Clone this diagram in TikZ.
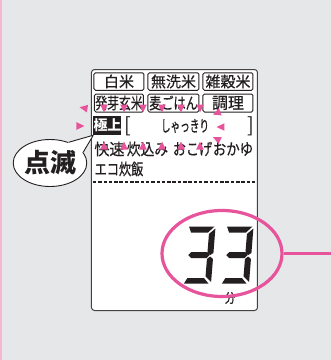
\documentclass[tikz,border=0pt]{standalone}
\usepackage{fontspec}
\usepackage{graphicx}
\usetikzlibrary{shapes.geometric,calc}
\newfontfamily\jp[FakeBold=0.6]{Noto Sans CJK JP}
\newfontfamily\jpb{Noto Sans CJK JP}
\definecolor{bg}{RGB}{230,231,232}
\definecolor{pk}{RGB}{231,84,155}
\definecolor{edgepink}{RGB}{246,182,208}
\definecolor{ink}{RGB}{35,31,32}
\newcommand\digitthree[2]{%
\begin{scope}[shift={(#1,#2)}, xslant=0.08]
\fill[ink] (2,-0.5)--(27.5,-0.5)--(21.5,5.5)--(4.5,5.5)--cycle;
\fill[ink] (28.5,1.5)--(28.5,26)--(25.5,28)--(22.5,26)--(22.5,7)--cycle;
\fill[ink] (3.5,28)--(6.5,25)--(22,25)--(25,28)--(22,31)--(6.5,31)--cycle;
\fill[ink] (25.5,29.5)--(28.5,32)--(28.5,55)--(22.5,49.5)--(22.5,32)--cycle;
\fill[ink] (1.5,56.5)--(26,56.5)--(21,51)--(4.5,51)--cycle;
\end{scope}}
\newcommand\ptri[3]{\fill[pk, shift={(#1,#2)}, rotate=#3] (4.5,0)--(-3.5,3.8)--(-3.5,-3.8)--cycle;}
\begin{document}
\begin{tikzpicture}[x=1pt,y=-1pt,
  lbl/.style={inner sep=0pt, text=ink, font=\jp\fontsize{15}{15}\selectfont},
  btn/.style={lbl, draw=ink, line width=1pt, rounded corners=1.5pt, minimum height=17.5pt}]
\useasboundingbox (0,0) rectangle (331,360);
\fill[bg] (0,0) rectangle (331,360);
\fill[edgepink] (0,0) rectangle (2,360);
% panel
\node[draw=ink!85, line width=1pt, fill=white, rounded corners=3pt, minimum width=166pt, minimum height=241pt, anchor=north west, inner sep=0pt] (panel) at (91,69) {};
% buttons
\node[btn, minimum width=50pt] (b1) at (119,81.5) {白米};
\node[btn, minimum width=51pt] (b2) at (173.5,81.5) {無洗米};
\node[btn, minimum width=50pt] (b3) at (228,81.5) {雑穀米};
\node[btn, minimum width=49pt, minimum height=18pt, font=\jp\fontsize{16}{16}\selectfont] (b4) at (119,103) {\scalebox{0.74}[1]{発芽玄米}};
\node[btn, minimum width=51pt, minimum height=18pt, font=\jp\fontsize{16}{16}\selectfont] (b5) at (173.5,103) {\scalebox{0.76}[1]{麦ごはん}};
\node[btn, minimum width=50pt, minimum height=18pt, font=\jp\fontsize{16}{16}\selectfont] (b6) at (228,103) {調理};
% row 3
\node[fill=ink, text=white, minimum width=27pt, minimum height=19pt, inner sep=0pt, font=\jpb\bfseries\fontsize{14}{14}\selectfont] (gj) at (107.5,125.5) {極上};
\node[lbl, font=\jpb\fontsize{20}{20}\selectfont] (lb) at (128,126) {[};
\node[lbl, font=\jpb\fontsize{20}{20}\selectfont] (rb) at (251,126) {]};
\node[lbl, font=\jp\fontsize{16}{16}\selectfont] (sk) at (185,126) {\scalebox{0.6}[1]{しゃっきり}};
% row 4
\node[lbl, font=\jp\fontsize{16}{16}\selectfont] (r41) at (109.5,149) {\scalebox{0.94}[1]{快速}};
\node[lbl, font=\jp\fontsize{16}{16}\selectfont] (r42) at (147.5,149) {\scalebox{0.86}[1]{炊込み}};
\node[lbl, font=\jp\fontsize{16}{16}\selectfont] (r43) at (192.5,149) {\scalebox{0.82}[1]{おこげ}};
\node[lbl, font=\jp\fontsize{16}{16}\selectfont] (r44) at (233,149) {\scalebox{0.84}[1]{おかゆ}};
% row 5
\node[lbl, font=\jp\fontsize{16}{16}\selectfont] (r5) at (119,169) {\scalebox{0.76}[1]{エコ炊飯}};
% dashed line
\coordinate (dl) at (93,181.5);
\coordinate (dr) at (255,181.5);
\draw[ink, line width=2pt, dash pattern=on 3.5pt off 1.8pt] (dl) -- (dr);
% pink triangles
\foreach \xx in {104,124,143,162,181,200} {\ptri{\xx}{108}{-90}}
\foreach \xx in {104,124,143,162,181,200} {\ptri{\xx}{146}{90}}
\ptri{84}{108}{170}
\ptri{80}{126}{0}
\ptri{217}{113}{200}
\ptri{221}{127}{180}
\ptri{217}{139}{155}
% digits
\digitthree{187}{227}
\digitthree{225}{227}
\node[lbl, font=\jp\fontsize{13}{13}\selectfont] (fun) at (230,298) {\scalebox{0.85}[1]{分}};
% ring
\node[draw=pk, line width=3.2pt, ellipse, minimum width=120pt, minimum height=86pt, inner sep=0pt] (ring) at (222,253.5) {};
\coordinate (lend) at (331,253.5);
\draw[pk, line width=3.2pt] (ring.east) -- (lend);
% callout
\node[ellipse, draw=ink, line width=0.9pt, fill=white, minimum width=72pt, minimum height=47pt, inner sep=0pt, text=ink, font=\jpb\bfseries\fontsize{26}{26}\selectfont] (blink) at (50,163) {点滅};
\fill[white] (blink.48) -- (gj.south west) -- (blink.18) -- ($(blink.18)!0.12!(blink.center)$) -- ($(blink.48)!0.12!(blink.center)$) -- cycle;
\draw[ink, line width=0.9pt, line join=round] (blink.48) -- (gj.south west) -- (blink.18);
\end{tikzpicture}
\end{document}
